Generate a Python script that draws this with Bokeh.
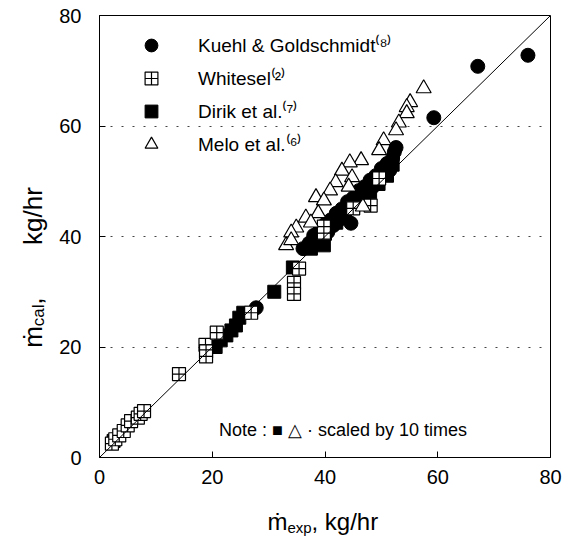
import math
from bokeh.plotting import figure
from bokeh.layouts import row, column
from bokeh.models import Range1d, Label, Legend, LegendItem, FixedTicker, Slope
from bokeh.embed import file_html
from bokeh.resources import INLINE

# ---- data ----
kuehl_x = [76.0, 67.1, 59.3, 44.6, 27.8, 36.1, 38.0, 37.2, 39.0, 40.0, 40.5, 41.0, 41.5, 42.0,
           42.5, 43.0, 43.5, 44.0, 44.5, 45.0, 45.5, 46.0, 46.5, 47.0, 47.5, 48.0, 48.5, 49.0,
           49.5, 50.0, 50.5, 51.0, 51.5, 52.0, 52.3, 52.6]
kuehl_y = [72.8, 70.8, 61.5, 42.4, 27.1, 37.8, 40.2, 38.8, 41.0, 42.2, 40.8, 43.0, 42.0, 44.2,
           43.0, 45.0, 44.0, 46.3, 45.2, 47.0, 46.0, 48.3, 47.0, 49.0, 48.0, 50.2, 49.0, 51.0,
           50.0, 52.3, 51.2, 53.2, 52.0, 54.2, 55.3, 56.1]

whitesel_x = [2.2, 2.8, 3.5, 4.3, 5.0, 5.6, 6.8, 7.3, 7.9, 14.1, 18.8, 18.9, 18.9, 20.8, 26.9,
              34.5, 34.5, 35.4, 39.8, 39.8, 45.0, 48.1, 49.6]
whitesel_y = [2.5, 3.3, 4.0, 4.8, 5.8, 6.6, 7.2, 7.9, 8.4, 15.1, 20.4, 19.2, 18.3, 22.6, 26.2,
              31.6, 29.6, 34.2, 40.7, 41.8, 45.1, 45.6, 50.5]

dirik_x = [2.5, 20.6, 21.5, 22.5, 23.4, 24.2, 24.8, 25.5, 31.0, 34.3, 37.5, 39.8, 38.5, 40.0,
           42.0, 43.5, 45.0, 46.5, 48.0, 49.5, 51.0, 52.0]
dirik_y = [3.0, 20.0, 21.2, 22.1, 23.0, 23.9, 25.3, 26.2, 30.0, 34.4, 37.8, 38.4, 39.5, 40.5,
           42.5, 43.5, 45.5, 46.5, 48.0, 49.5, 51.0, 53.0]

melo_x = [57.5, 55.1, 54.5, 54.5, 53.1, 52.6, 50.4, 49.6, 46.4, 44.4, 43.0, 44.8, 41.9, 44.2,
          40.9, 38.4, 39.8, 38.8, 36.6, 37.5, 34.9, 34.0, 33.1, 34.0, 46.7]
melo_y = [66.8, 64.3, 63.4, 62.3, 60.6, 59.2, 57.4, 55.6, 53.8, 53.4, 51.9, 50.7, 49.8, 49.0,
          48.3, 47.1, 46.5, 44.2, 43.4, 42.5, 41.6, 40.7, 38.4, 39.3, 45.4]

ticks = [0, 20, 40, 60, 80]
grid_levels = [20, 40, 60]

FONT = "Liberation Sans"

# ---------------- main plot ----------------
p = figure(width=506, height=495, output_backend="svg", toolbar_location=None, title=None,
           x_range=Range1d(0, 80), y_range=Range1d(0, 80),
           min_border_left=42, min_border_right=12, min_border_top=15, min_border_bottom=38)

p.background_fill_color = "white"
p.border_fill_color = "white"
p.outline_line_color = "black"
p.outline_line_width = 1

for ax in (p.xaxis[0], p.yaxis[0]):
    ax.ticker = FixedTicker(ticks=ticks)
    ax.major_tick_in = 6
    ax.major_tick_out = 0
    ax.minor_tick_line_color = None
    ax.axis_line_color = "black"
    ax.major_tick_line_color = "black"
    ax.major_label_text_font = FONT
    ax.major_label_text_font_size = "20px"
    ax.major_label_text_color = "black"
    ax.axis_label = None
p.xaxis[0].major_label_standoff = 12
p.yaxis[0].major_label_standoff = 18

p.xgrid.grid_line_color = None
p.ygrid.ticker = FixedTicker(ticks=grid_levels)
p.ygrid.grid_line_color = "#444444"
p.ygrid.grid_line_dash = "2 9"
p.ygrid.grid_line_width = 1

p.add_layout(Slope(gradient=1, y_intercept=0, line_color="black", line_width=1))

r_dirik = p.scatter(dirik_x, dirik_y, marker="square", size=13, fill_color="black", line_color="black")
r_kuehl = p.scatter(kuehl_x, kuehl_y, marker="circle", size=14, fill_color="black", line_color="black")
r_white = p.scatter(whitesel_x, whitesel_y, marker="square_cross", size=13, fill_color="white",
                    line_color="black", line_width=1.2)
r_melo = p.scatter(melo_x, melo_y, marker="triangle", size=15, fill_color="white",
                   line_color="black", line_width=1.2)

legend = Legend(items=[
    LegendItem(label="Kuehl & Goldschmidt\u207d\u2078\u207e", renderers=[r_kuehl]),
    LegendItem(label="Whitesel\u207d\u00b2\u207e", renderers=[r_white]),
    LegendItem(label="Dirik et al.\u207d\u2077\u207e", renderers=[r_dirik]),
    LegendItem(label="Melo et al.\u207d\u2076\u207e", renderers=[r_melo]),
], location=(36, 297), glyph_width=32, glyph_height=32, spacing=1, padding=0, margin=0,
   label_standoff=31, label_text_font=FONT, label_text_font_size="19px",
   label_text_color="black", border_line_color=None, background_fill_alpha=0)
p.add_layout(legend)

p.add_layout(Label(x=21.2, y=5.0, text="Note : \u25a0 \u25b3 \u00b7 scaled by 10 times",
                   text_font=FONT, text_font_size="18px", text_color="black",
                   text_baseline="alphabetic"))


def text_panel(w, h):
    f = figure(width=w, height=h, output_backend="svg", toolbar_location=None, title=None,
               x_range=Range1d(0, w), y_range=Range1d(0, h),
               x_axis_location=None, y_axis_location=None,
               min_border_left=0, min_border_right=0, min_border_top=0, min_border_bottom=0)
    f.outline_line_color = None
    f.grid.visible = False
    f.background_fill_color = "white"
    f.border_fill_color = "white"
    return f


def lab(fig, x, y, text, size, angle=0.0):
    fig.add_layout(Label(x=x, y=y, text=text, text_font=FONT, text_font_size=size,
                         text_color="black", text_baseline="alphabetic", angle=angle))


# ---------------- y-axis title panel (left of the plot) ----------------
yl = text_panel(56, 495)
up = math.pi / 2
lab(yl, 32, 123, "\u1e41", "26px", up)
lab(yl, 38, 147, "cal", "17px", up)
lab(yl, 32, 171, ",", "26px", up)
lab(yl, 32, 238, "kg/hr", "26px", up)

# ---------------- x-axis title panel (below the plot) ----------------
xl = text_panel(562, 45)
lab(xl, 267, 19, "\u1e41", "24px")
lab(xl, 287, 13, "exp", "15px")
lab(xl, 311, 19, ", kg/hr", "24px")

layout = column(row(yl, p, spacing=0), xl, spacing=0)

open("out.html", "w").write(file_html(layout, INLINE))
